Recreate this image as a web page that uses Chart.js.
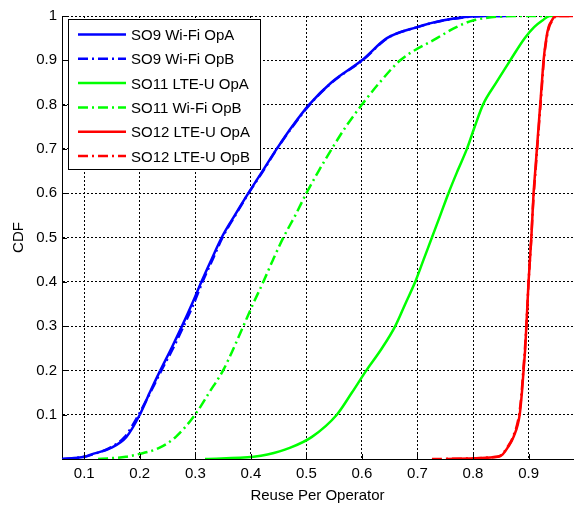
<!DOCTYPE html>
<html>
<head>
<meta charset="utf-8">
<script src="https://cdn.jsdelivr.net/npm/chart.js@4.4.0/dist/chart.umd.min.js"></script>
<style>
  html, body { margin: 0; padding: 0; background: #fff; }
</style>
</head>
<body>
<canvas id="cdfChart" width="574" height="505"></canvas>
<script>
// CDF levels shared by every series (last level repeated for the max sample)
const cdfLevels = [0, 0.005, 0.01, 0.025, 0.05, 0.1, 0.15, 0.2, 0.25, 0.3, 0.35, 0.4, 0.45, 0.5,
  0.55, 0.6, 0.65, 0.7, 0.75, 0.8, 0.85, 0.9, 0.95, 0.975, 0.99, 1, 1];

// reuse per operator at each CDF level
const so9WifiOpA = [0.06, 0.10, 0.112, 0.148, 0.176, 0.200, 0.218, 0.237, 0.257, 0.276, 0.294, 0.311, 0.329,
  0.3475, 0.371, 0.3955, 0.421, 0.4466, 0.474, 0.505, 0.545, 0.600, 0.645, 0.699, 0.745, 0.820, 0.860];
const so9WifiOpB = [0.062, 0.10, 0.114, 0.146, 0.173, 0.198, 0.219, 0.239, 0.260, 0.279, 0.297, 0.313, 0.331,
  0.349, 0.372, 0.396, 0.422, 0.447, 0.475, 0.506, 0.546, 0.601, 0.646, 0.700, 0.748, 0.822, 0.855];
const so11LteOpA = [0.3175, 0.405, 0.43, 0.47, 0.51, 0.5548, 0.582, 0.608, 0.636, 0.66, 0.678, 0.696, 0.711,
  0.726, 0.741, 0.7558, 0.772, 0.789, 0.803, 0.818, 0.842, 0.867, 0.893, 0.91, 0.925, 0.938, 0.95];
const so11WifiOpB = [0.125, 0.175, 0.195, 0.235, 0.265, 0.2995, 0.325, 0.35, 0.369, 0.3865, 0.404, 0.4225, 0.44,
  0.4586, 0.48, 0.50, 0.522, 0.5457, 0.571, 0.60, 0.632, 0.669, 0.735, 0.77, 0.80, 0.885, 0.93];
const so12LteOpA = [0.753, 0.845, 0.853, 0.862, 0.873, 0.884, 0.888, 0.891, 0.894, 0.896, 0.898, 0.9, 0.9025,
  0.905, 0.907, 0.909, 0.912, 0.915, 0.918, 0.921, 0.924, 0.927, 0.932, 0.936, 0.942, 0.948, 0.98];
const so12LteOpB = [0.726, 0.843, 0.852, 0.861, 0.872, 0.883, 0.8875, 0.8905, 0.8935, 0.896, 0.898, 0.9, 0.9025,
  0.905, 0.907, 0.9095, 0.9125, 0.9155, 0.9185, 0.9215, 0.9245, 0.9275, 0.9325, 0.937, 0.943, 0.95, 0.975];

const seriesNames = ["SO9 Wi-Fi OpA", "SO9 Wi-Fi OpB", "SO11 LTE-U OpA", "SO11 Wi-Fi OpB", "SO12 LTE-U OpA", "SO12 LTE-U OpB"];
const xTicks = [0.1, 0.2, 0.3, 0.4, 0.5, 0.6, 0.7, 0.8, 0.9];
const yTicks = [0.1, 0.2, 0.3, 0.4, 0.5, 0.6, 0.7, 0.8, 0.9, 1];

const FONT = '"Liberation Sans", Arial, sans-serif';
const dashDot = [10, 4, 2, 4];
const seriesValues = [so9WifiOpA, so9WifiOpB, so11LteOpA, so11WifiOpB, so12LteOpA, so12LteOpB];
const seriesColors = ["#0000ff", "#0000ff", "#00ff00", "#00ff00", "#ff0000", "#ff0000"];
const seriesDashes = [[], dashDot, [], dashDot, [], dashDot];

function toPoints(xs) {
  return xs.map((v, i) => ({ x: v, y: cdfLevels[i] }));
}

const datasets = seriesValues.map((xs, i) => ({
  label: seriesNames[i],
  data: toPoints(xs),
  borderColor: seriesColors[i],
  backgroundColor: seriesColors[i],
  borderDash: seriesDashes[i],
  borderWidth: 2.5,
  showLine: true,
  pointRadius: 0,
  cubicInterpolationMode: "monotone",
  order: seriesValues.length - i,
}));

// small inward tick marks like matlab
const innerTicks = {
  id: "innerTicks",
  afterDatasetsDraw(chart) {
    const { ctx, chartArea: a, scales } = chart;
    ctx.save();
    ctx.strokeStyle = "#000";
    ctx.lineWidth = 1;
    ctx.beginPath();
    xTicks.forEach((v) => {
      const px = Math.round(scales.x.getPixelForValue(v)) + 0.5;
      ctx.moveTo(px, a.bottom);
      ctx.lineTo(px, a.bottom - 5);
    });
    yTicks.forEach((v) => {
      const py = Math.round(scales.y.getPixelForValue(v)) + 0.5;
      ctx.moveTo(a.left, py);
      ctx.lineTo(a.left + 5, py);
    });
    ctx.stroke();
    ctx.restore();
  },
};

// boxed legend in the upper left corner
const legendBox = {
  id: "legendBox",
  afterDraw(chart) {
    const ctx = chart.ctx;
    ctx.save();
    ctx.fillStyle = "#fff";
    ctx.fillRect(68.5, 19.5, 192, 150);
    ctx.strokeStyle = "#000";
    ctx.lineWidth = 1;
    ctx.strokeRect(68.5, 19.5, 192, 150);
    ctx.font = "15px " + FONT;
    ctx.textBaseline = "middle";
    chart.data.datasets.forEach((ds, i) => {
      const y = 34.5 + i * 24.3;
      ctx.strokeStyle = ds.borderColor;
      ctx.lineWidth = 2.5;
      ctx.setLineDash(ds.borderDash);
      ctx.beginPath();
      ctx.moveTo(78, y);
      ctx.lineTo(126, y);
      ctx.stroke();
      ctx.setLineDash([]);
      ctx.fillStyle = "#000";
      ctx.fillText(ds.label, 131, y + 1.5);
    });
    ctx.restore();
  },
};

new Chart(document.getElementById("cdfChart"), {
  type: "scatter",
  data: { datasets: datasets },
  plugins: [innerTicks, legendBox],
  options: {
    responsive: false,
    animation: false,
    layout: { padding: { top: 16, right: 1, left: 0, bottom: 0 } },
    plugins: { legend: { display: false }, tooltip: { enabled: false } },
    scales: {
      x: {
        type: "linear",
        min: 0.06,
        max: 0.98,
        afterBuildTicks: (s) => { s.ticks = xTicks.map((v) => ({ value: v })); },
        afterFit: (s) => { s.height = 46; },
        ticks: { color: "#000", font: { size: 15, family: FONT }, padding: 6, callback: (v) => v },
        grid: { color: "#000", lineWidth: 1, drawTicks: false },
        border: { display: true, color: "#000", width: 1, dash: [2, 2] },
        title: { display: true, text: "Reuse Per Operator", color: "#000", font: { size: 15, family: FONT }, padding: 0 },
      },
      y: {
        type: "linear",
        min: 0,
        max: 1,
        afterBuildTicks: (s) => { s.ticks = yTicks.map((v) => ({ value: v })); },
        afterFit: (s) => { s.width = 62; },
        ticks: { color: "#000", font: { size: 15, family: FONT }, padding: 5, callback: (v) => v },
        grid: { color: "#000", lineWidth: 1, drawTicks: false },
        border: { display: true, color: "#000", width: 1, dash: [2, 2] },
        title: { display: true, text: "CDF", color: "#000", font: { size: 15, family: FONT }, padding: { top: 10, bottom: 0 } },
      },
    },
  },
});
</script>
</body>
</html>
